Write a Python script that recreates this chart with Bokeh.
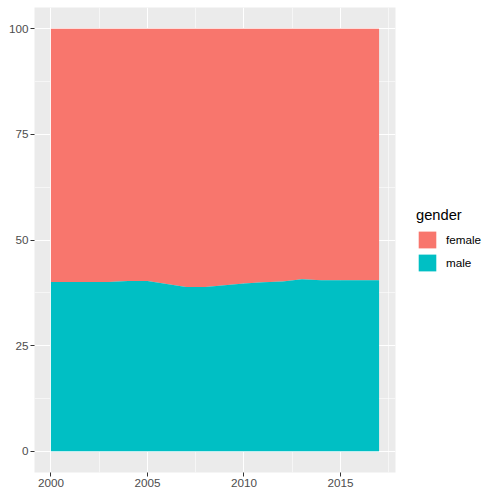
from bokeh.plotting import figure
from bokeh.models import FixedTicker, Legend, LegendItem, Range1d
from bokeh.embed import file_html
from bokeh.resources import INLINE

years = list(range(2000, 2018))
male = [40.05, 40.05, 40.05, 40.05, 40.3, 40.3, 39.6, 38.9, 38.9, 39.3,
        39.7, 40.0, 40.2, 40.7, 40.5, 40.5, 40.5, 40.5]
total = [100.0] * len(years)
x_ticks = [2000, 2005, 2010, 2015]
x_minor = [2002.5, 2007.5, 2012.5, 2017.5]
y_ticks = [0, 25, 50, 75, 100]
y_minor = [12.5, 37.5, 62.5, 87.5]
groups = ["female", "male"]
colors = {"female": "#F8766D", "male": "#00BFC4"}

FONT = "Liberation Sans"

p = figure(frame_width=361, frame_height=465, output_backend="svg",
           toolbar_location=None,
           x_range=Range1d(1999.15, 2017.85), y_range=Range1d(-5, 105),
           min_border_left=34, min_border_right=100, min_border_top=7,
           min_border_bottom=20)
p.background_fill_color = "#EBEBEB"
p.border_fill_color = "white"
p.outline_line_color = None

r_female = p.varea(x=years, y1=male, y2=total, fill_color=colors["female"])
r_male = p.varea(x=years, y1=[0] * len(years), y2=male, fill_color=colors["male"])

p.xaxis.ticker = FixedTicker(ticks=x_ticks, minor_ticks=x_minor)
p.yaxis.ticker = FixedTicker(ticks=y_ticks, minor_ticks=y_minor)
for ax in (p.xaxis, p.yaxis):
    ax.axis_line_color = None
    ax.major_tick_line_color = "#333333"
    ax.major_tick_out = 4
    ax.major_tick_in = 0
    ax.minor_tick_line_color = None
    ax.major_label_text_font = FONT
    ax.major_label_text_font_size = "11.7px"
    ax.major_label_text_color = "#4D4D4D"
    ax.major_label_standoff = 2

for g in (p.xgrid, p.ygrid):
    g.grid_line_color = "white"
    g.grid_line_width = 1.1
    g.minor_grid_line_color = "white"
    g.minor_grid_line_width = 0.55
    g.level = "image"

legend = Legend(items=[LegendItem(label="female", renderers=[r_female]),
                       LegendItem(label="male", renderers=[r_male])],
                title="gender", location="center_left")
legend.title_text_font = FONT
legend.title_text_font_size = "14.7px"
legend.title_text_font_style = "normal"
legend.title_text_color = "black"
legend.title_standoff = 6
legend.label_text_font = FONT
legend.label_text_font_size = "11.7px"
legend.label_text_color = "black"
legend.glyph_width = 22
legend.glyph_height = 21
legend.label_standoff = 8
legend.spacing = 2
legend.padding = 0
legend.margin = 21
legend.border_line_color = None
legend.background_fill_alpha = 0
p.add_layout(legend, "right")

open("out.html", "w").write(file_html(p, INLINE))
